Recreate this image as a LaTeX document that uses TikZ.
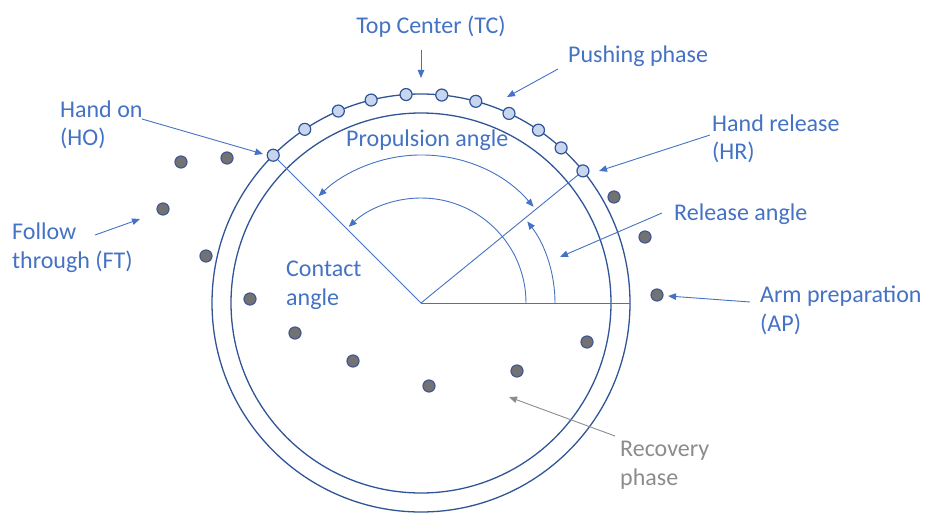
\documentclass[tikz,border=0pt]{standalone}
\usepackage{fontspec}
\setmainfont{Carlito}
\usetikzlibrary{arrows.meta,calc}
\definecolor{lblue}{HTML}{4472C4}
\definecolor{dblue}{HTML}{2F5597}
\definecolor{dotfill}{HTML}{C7D5EE}
\definecolor{gfill}{HTML}{727272}
\definecolor{gline}{HTML}{44598F}
\definecolor{rgray}{HTML}{8C8C8C}
\tikzset{
  lab/.style={font=\fontsize{24}{28.5}\selectfont, text=lblue, inner sep=0pt, align=left, anchor=base west},
  glab/.style={lab, text=rgray},
  bdot/.style={circle, draw=dblue, fill=dotfill, line width=1.2pt, minimum size=12pt, inner sep=0pt},
  gdot/.style={circle, draw=gline, fill=gfill, line width=1.2pt, minimum size=12pt, inner sep=0pt},
  ring/.style={draw=dblue, line width=1.3pt},
  thin/.style={draw=lblue, line width=0.9pt},
  arr/.style={draw=lblue, line width=0.9pt, -{Triangle[length=8pt,width=6.5pt]}},
  garr/.style={draw=rgray, line width=0.9pt, -{Triangle[length=8pt,width=6.5pt]}},
  dbl/.style={draw=lblue, line width=0.9pt, {Triangle[length=8pt,width=6.5pt]}-{Triangle[length=8pt,width=6.5pt]}}
}
\begin{document}
\begin{tikzpicture}[x=1pt,y=1pt]
\useasboundingbox (0,0) rectangle (925,512);
\coordinate (C) at (421,209);
% rings
\draw[ring] (C) circle[radius=209pt];
\draw[ring] (C) circle[radius=190pt];
% radial lines
\coordinate (HOp) at ($(C)+(135:209)$);
\coordinate (HRp) at ($(C)+(39.2:209)$);
\coordinate (E0) at ($(C)+(0:209)$);
\draw[thin] (C) -- (HOp);
\draw[thin] (C) -- (HRp);
\draw[thin] (C) -- (E0);
% angle arcs
\draw[thin, -{Triangle[length=8pt,width=6.5pt]}] ($(C)+(0:105)$) arc[start angle=0, end angle=133.5, radius=105pt];
\draw[thin, -{Triangle[length=8pt,width=6.5pt]}] ($(C)+(0:134)$) arc[start angle=0, end angle=37.5, radius=134pt];
\draw[dbl] ($(C)+(40.5:148)$) arc[start angle=40.5, end angle=133.8, radius=148pt];
% light dots on outer ring
\foreach \a [count=\i] in {135,123.8,113.3,103.8,94.1,84.3,74.8,65.1,55.8,47.9,39.2}
  \node[bdot] (b\i) at ($(C)+(\a:209)$) {};
% gray dots
\foreach \p [count=\i] in {(614,315),(645,275),(657,217),(587,170),(517,141),(429,126),(353,151),(295,179),(250,213),(206,256),(163,303),(181,350),(227,354)}
  \node[gdot] (g\i) at \p {};
% labels (multi-line labels anchored at the baseline of their last line)
\node[lab, anchor=base] (tc) at (431,478) {Top Center (TC)};
\node[lab] (push) at (568,449) {Pushing phase};
\node[lab] (ho) at (60,366) {Hand on\\(HO)};
\node[lab] (ft) at (12,244) {Follow\\through (FT)};
\node[lab] (ca) at (286,207) {Contact\\angle};
\node[lab] (pa) at (346,365) {Propulsion angle};
\node[lab] (hr) at (712,352) {Hand release\\(HR)};
\node[lab] (ra) at (674,291) {Release angle};
\node[lab] (ap) at (760,181) {Arm preparation\\(AP)};
\node[glab] (rp) at (620,27) {Recovery\\phase};
% arrows
\coordinate (tcA) at (421,462); \coordinate (tcB) at (421,434);
\coordinate (puA) at (558,443); \coordinate (puB) at (507,415);
\coordinate (hoA) at (142,393); \coordinate (hoB) at (263,358);
\coordinate (hrA) at (710,377); \coordinate (hrB) at (599,341);
\coordinate (raA) at (662,299); \coordinate (raB) at (560,255);
\coordinate (apA) at (750,210); \coordinate (apB) at (668,216);
\coordinate (ftA) at (95,277);  \coordinate (ftB) at (140,293);
\coordinate (rpA) at (615,76);  \coordinate (rpB) at (509,115);
\draw[arr] (tcA) -- (tcB);
\draw[arr] (puA) -- (puB);
\draw[arr] (hoA) -- (hoB);
\draw[arr] (hrA) -- (hrB);
\draw[arr] (raA) -- (raB);
\draw[arr] (apA) -- (apB);
\draw[arr] (ftA) -- (ftB);
\draw[garr] (rpA) -- (rpB);
\end{tikzpicture}
\end{document}
